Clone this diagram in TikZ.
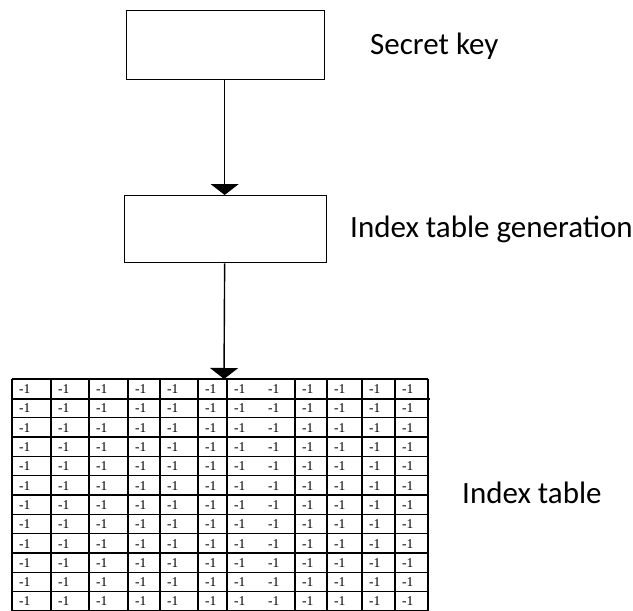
\documentclass[tikz,border=0pt]{standalone}
\usepackage{fontspec}
\setmainfont{Carlito}
\newfontfamily\cellfont{Liberation Serif}
\usetikzlibrary{arrows.meta}
\begin{document}
\begin{tikzpicture}[x=1pt,y=-1pt,
  procbox/.style={draw, line width=1.3pt, inner sep=0pt, anchor=north west},
  flow/.style={line width=1.4pt, -{Triangle[width=28pt,length=11pt]}},
  lbl/.style={anchor=base west, inner sep=0pt, font=\fontsize{31}{37}\selectfont},
  grid/.style={line width=1.2pt},
  celltext/.style={anchor=west, inner sep=0pt, font=\cellfont\fontsize{13.5}{15}\selectfont}]
\useasboundingbox (0,0) rectangle (633,611);
% boxes
\node[procbox, minimum width=198pt, minimum height=69pt] (key) at (126,10) {};
\node[procbox, minimum width=202pt, minimum height=67pt] (gen) at (124,195) {};
\coordinate (tabletop) at (224,379);
% labels
\node[lbl] (keylbl) at (370,54) {Secret key};
\node[lbl] (genlbl) at (350,237) {Index table generation};
\node[lbl] (tablbl) at (462,503) {Index table};
% arrows
\draw[flow] ([xshift=-1pt]key.south) -- ([xshift=-1pt]gen.north);
\draw[flow] ([xshift=-1pt]gen.south) -- (tabletop);
% table grid
\foreach \y in {379,398.33,...,613} {\draw[grid] (12,\y) -- (428,\y);}
\draw[line width=2.6pt] (12,399) -- (430,399);
\draw[line width=1.8pt] (12,379) -- (428,379);
\foreach \x in {12,51,89,128,160,198,227,295,327,362,395,428} {\draw[grid] (\x,379) -- (\x,615);}
% cell texts
\foreach \r in {0,...,11} {
  \foreach \xl [count=\c] in {12,51,89,128,160,198,227,261,295,327,362,395} {
    \node[celltext] (c-\r-\c) at (\xl+7, 379+\r*19.33+9.9) {-1};
  }
}
\end{tikzpicture}
\end{document}
